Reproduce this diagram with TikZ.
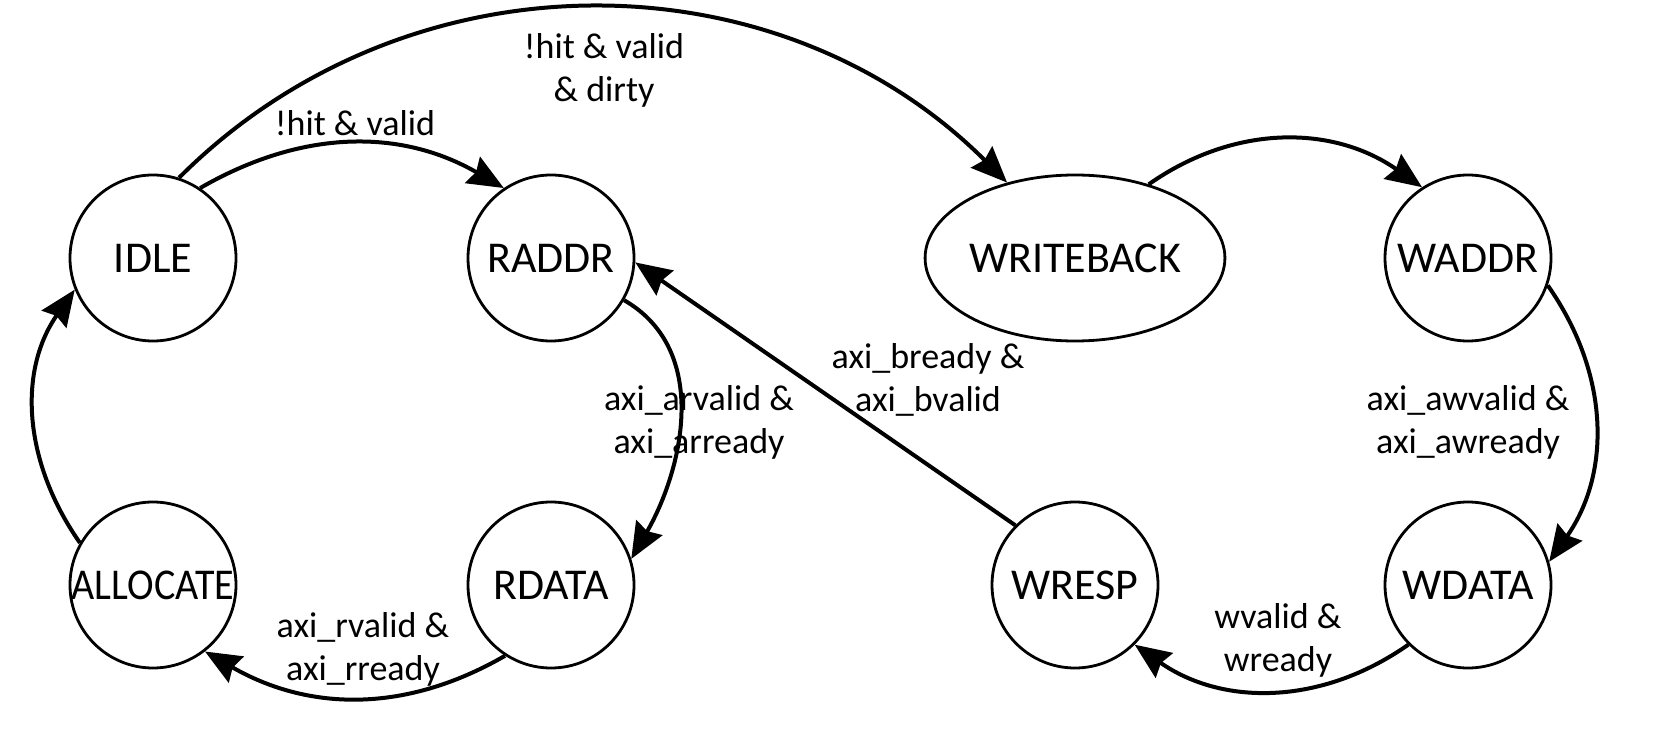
\documentclass[tikz,border=0pt]{standalone}
\usepackage{fontspec}
\setmainfont{Carlito}
\usetikzlibrary{arrows.meta,shapes.geometric}

\tikzset{
  state/.style={draw, circle, line width=1.4pt, minimum size=83pt, inner sep=0pt,
                font=\fontsize{22}{26}\selectfont},
  wide state/.style={state, ellipse, minimum width=125pt, minimum height=83pt},
  trans/.style={line width=2pt, -{Stealth[length=18pt,width=15pt,inset=2pt]}},
  cond/.style={align=center, inner sep=0pt, font=\fontsize{18}{21.5}\selectfont}
}

\begin{document}
\begin{tikzpicture}[x=0.5pt, y=0.5pt]
  \useasboundingbox (0,0) rectangle (1674,740);

  % states: read path on the left, write-back path on the right
  \node[state]      (idle)  at (153,482)  {IDLE};
  \node[state]      (raddr) at (551,482)  {RADDR};
  \node[wide state] (wb)    at (1075,482) {WRITEBACK};
  \node[state]      (waddr) at (1468,482) {WADDR};
  \node[state]      (alloc) at (153,155)  {\scalebox{0.91}[1]{ALLOCATE}};
  \node[state]      (rdata) at (551,155)  {RDATA};
  \node[state]      (wresp) at (1075,155) {WRESP};
  \node[state]      (wdata) at (1468,155) {WDATA};

  % transitions
  \draw[trans] (idle.56) to[out=30, in=150] (raddr.124);
  \draw[trans] (idle.72) to[out=45, in=135] (wb.132);
  \draw[trans] (wb.45) to[out=35, in=145] (waddr.123);
  \draw[trans] (waddr.-19) to[out=-55, in=55] (wdata.16);
  \draw[trans] (wdata.225) to[out=-145, in=-35] (wresp.-45);
  \draw[trans] (wresp.135) -- (raddr.-3);
  \draw[trans] (raddr.-30) to[out=-30, in=60] (rdata.18);
  \draw[trans] (rdata.237) to[out=-150, in=-30] (alloc.-52);
  \draw[trans] (alloc.150) to[out=125, in=-125] (idle.202);

  % transition conditions
  \node[cond] (c1) at (355,617) {!hit \& valid};
  \node[cond] (c2) at (604,670) {!hit \& valid\\\& dirty};
  \node[cond] (c3) at (1468,318) {axi\_awvalid \&\\axi\_awready};
  \node[cond] (c4) at (1278,100) {wvalid \&\\wready};
  \node[cond] (c5) at (928,360) {axi\_bready \&\\axi\_bvalid};
  \node[cond] (c6) at (699,318) {axi\_arvalid \&\\axi\_arready};
  \node[cond] (c7) at (363,91) {axi\_rvalid \&\\axi\_rready};
\end{tikzpicture}
\end{document}
